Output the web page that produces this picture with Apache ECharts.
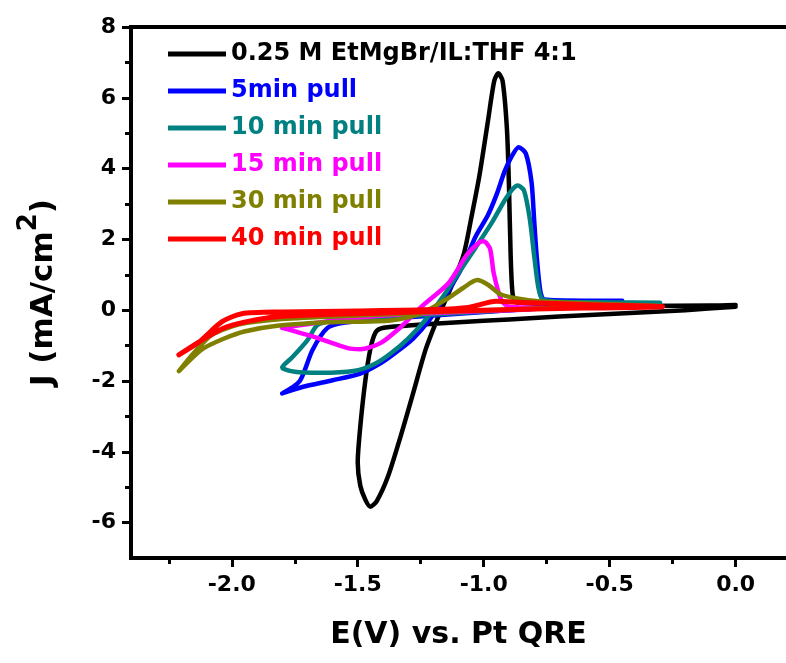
<!DOCTYPE html>
<html>
<head>
<meta charset="utf-8">
<script src="https://cdn.jsdelivr.net/npm/echarts@6/dist/echarts.min.js"></script>
<style>html,body{margin:0;padding:0;background:#fff}#c{width:786px;height:663px}</style>
</head>
<body>
<div id="c"></div>
<script>
// ---- data (E in V, J in mA/cm2) ----
const seriesNames = ['0.25 M EtMgBr/IL:THF 4:1', '5min pull', '10 min pull', '15 min pull', '30 min pull', '40 min pull'];
const seriesColors = ['#000000', '#0000FF', '#008080', '#FF00FF', '#808000', '#FF0000'];

const curveBlack = [
  [0.0, 0.1], [-0.2, 0.0], [-0.4, -0.07], [-0.6, -0.14], [-0.8, -0.22], [-1.0, -0.3], [-1.2, -0.38],
  [-1.35, -0.46], [-1.41, -0.52], [-1.43, -0.64], [-1.45, -1.1], [-1.47, -2.0], [-1.49, -3.3], [-1.5, -4.3],
  [-1.49, -4.95], [-1.47, -5.35], [-1.45, -5.55], [-1.425, -5.4], [-1.38, -4.7], [-1.33, -3.57], [-1.28, -2.34],
  [-1.23, -1.1], [-1.18, -0.18], [-1.13, 0.64], [-1.08, 1.56], [-1.05, 2.58], [-1.017, 3.8], [-0.983, 5.35],
  [-0.958, 6.48], [-0.942, 6.69], [-0.925, 6.48], [-0.908, 5.15], [-0.9, 3.6], [-0.893, 1.56], [-0.885, 0.45],
  [-0.87, 0.22], [-0.7, 0.17], [-0.4, 0.12], [-0.1, 0.13], [0.0, 0.15]
];
const curve5min = [
  [-0.45, 0.27], [-0.6, 0.18], [-0.8, 0.05], [-1.0, -0.05], [-1.2, -0.15], [-1.4, -0.25], [-1.55, -0.35],
  [-1.62, -0.5], [-1.68, -1.13], [-1.73, -2.0], [-1.8, -2.35], [-1.72, -2.17], [-1.6, -1.98], [-1.49, -1.79],
  [-1.41, -1.5], [-1.35, -1.2], [-1.28, -0.8], [-1.217, -0.29], [-1.15, 0.43], [-1.083, 1.25], [-1.033, 2.07],
  [-0.983, 2.69], [-0.947, 3.3], [-0.917, 3.92], [-0.89, 4.33], [-0.861, 4.6], [-0.833, 4.43], [-0.81, 3.61],
  [-0.8, 2.58], [-0.79, 1.56], [-0.775, 0.53], [-0.76, 0.3], [-0.6, 0.27], [-0.45, 0.27]
];
const curve10min = [
  [-0.3, 0.21], [-0.6, 0.12], [-0.9, 0.0], [-1.2, -0.12], [-1.45, -0.22], [-1.6, -0.3], [-1.66, -0.42],
  [-1.7, -0.85], [-1.76, -1.33], [-1.8, -1.62], [-1.75, -1.74], [-1.65, -1.77], [-1.517, -1.72], [-1.433, -1.52],
  [-1.367, -1.21], [-1.3, -0.8], [-1.233, -0.29], [-1.167, 0.33], [-1.1, 1.05], [-1.033, 1.76], [-0.967, 2.48],
  [-0.917, 3.1], [-0.885, 3.42], [-0.865, 3.52], [-0.84, 3.38], [-0.817, 2.58], [-0.8, 1.56], [-0.783, 0.64],
  [-0.767, 0.31], [-0.7, 0.24], [-0.5, 0.22], [-0.3, 0.21]
];
const curve15min = [
  [-1.8, -0.5], [-1.67, -0.76], [-1.54, -1.07], [-1.49, -1.1], [-1.41, -0.93], [-1.33, -0.48], [-1.25, 0.08],
  [-1.14, 0.76], [-1.067, 1.56], [-1.017, 1.92], [-1.0, 1.95], [-0.975, 1.74], [-0.96, 1.04], [-0.93, 0.28],
  [-0.9, 0.1], [-0.8, 0.07], [-0.75, 0.06], [-0.9, 0.0], [-1.1, -0.05], [-1.4, -0.15], [-1.6, -0.3], [-1.8, -0.5]
];
const curve30min = [
  [-2.21, -1.72], [-2.117, -1.1], [-2.03, -0.8], [-1.95, -0.6], [-1.82, -0.44], [-1.62, -0.34], [-1.37, -0.29],
  [-1.25, -0.1], [-1.15, 0.3], [-1.083, 0.62], [-1.026, 0.85], [-0.983, 0.72], [-0.933, 0.45], [-0.867, 0.33],
  [-0.783, 0.25], [-0.55, 0.18], [-0.3, 0.12], [-0.6, 0.08], [-0.9, 0.02], [-1.2, -0.06], [-1.5, -0.15],
  [-1.8, -0.25], [-1.97, -0.4], [-2.08, -0.7], [-2.15, -1.2], [-2.21, -1.72]
];
const curve40min = [
  [-2.21, -1.26], [-2.13, -0.9], [-2.04, -0.33], [-1.96, -0.1], [-1.8, -0.05], [-1.5, -0.02], [-1.2, 0.02],
  [-1.06, 0.08], [-0.95, 0.25], [-0.85, 0.22], [-0.6, 0.16], [-0.29, 0.1], [-0.6, 0.06], [-1.0, 0.0],
  [-1.4, -0.08], [-1.83, -0.19], [-2.02, -0.47], [-2.12, -0.85], [-2.21, -1.26]
];
const curves = [curveBlack, curve5min, curve10min, curve15min, curve30min, curve40min];

const xMajorTicks = [-2.0, -1.5, -1.0, -0.5, 0.0];
const xMinorTicks = [-2.25, -1.75, -1.25, -0.75, -0.25];
const yMajorTicks = [-6, -4, -2, 0, 2, 4, 6, 8];
const yMinorTicks = [-5, -3, -1, 1, 3, 5, 7];
const xRange = [-2.4, 0.2];
const yRange = [-7, 8];

// ---- chart ----
const FONT = 'DejaVu Sans';
const chart = echarts.init(document.getElementById('c'), null, {renderer: 'canvas'});

const hidden = {show: false};
const option = {
  backgroundColor: '#fff',
  animation: false,
  grid: {left: 131, top: 27, width: 660, height: 531},
  legend: {
    orient: 'vertical', left: 168, top: 42, padding: 0,
    icon: 'rect', itemWidth: 58, itemHeight: 5, itemGap: 13,
    selectedMode: false,
    textStyle: {fontFamily: FONT, fontWeight: 'bold', fontSize: 24},
    data: seriesNames.map((n, i) => ({name: n, textStyle: {color: seriesColors[i]}}))
  },
  xAxis: [
    {
      type: 'value', min: xRange[0], max: xRange[1], position: 'bottom',
      axisLine: {show: true, onZero: false, lineStyle: {color: '#000', width: 4, cap: 'square'}},
      axisTick: {show: true, inside: false, length: 9, lineStyle: {color: '#000', width: 3}, customValues: xMajorTicks},
      axisLabel: {show: true, margin: 16, color: '#000', fontFamily: FONT, fontWeight: 'bold', fontSize: 22,
        customValues: xMajorTicks, formatter: v => Number(v).toFixed(1)},
      splitLine: hidden,
      name: 'E(V) vs. Pt QRE', nameLocation: 'middle', nameGap: 62,
      nameTextStyle: {color: '#000', fontFamily: FONT, fontWeight: 'bold', fontSize: 30}
    },
    {
      type: 'value', min: xRange[0], max: xRange[1], position: 'bottom',
      axisLine: {show: false, onZero: false},
      axisTick: {show: true, inside: false, length: 6, lineStyle: {color: '#000', width: 3}, customValues: xMinorTicks},
      axisLabel: hidden, splitLine: hidden
    },
    {
      type: 'value', min: xRange[0], max: xRange[1], position: 'top',
      axisLine: {show: true, onZero: false, lineStyle: {color: '#000', width: 4, cap: 'square'}},
      axisTick: hidden, axisLabel: hidden, splitLine: hidden
    }
  ],
  yAxis: [
    {
      type: 'value', min: yRange[0], max: yRange[1], position: 'left',
      axisLine: {show: true, onZero: false, lineStyle: {color: '#000', width: 4, cap: 'square'}},
      axisTick: {show: true, inside: false, length: 9, lineStyle: {color: '#000', width: 3}, customValues: yMajorTicks},
      axisLabel: {show: true, margin: 15, color: '#000', fontFamily: FONT, fontWeight: 'bold', fontSize: 22,
        customValues: yMajorTicks},
      splitLine: hidden,
      name: '{a|J (mA/cm}{b|2}{a|)}', nameLocation: 'middle', nameGap: 72, nameRotate: 90,
      nameTextStyle: {
        color: '#000', fontFamily: FONT, fontWeight: 'bold', fontSize: 31,
        rich: {
          a: {color: '#000', fontFamily: FONT, fontWeight: 'bold', fontSize: 31, verticalAlign: 'bottom'},
          b: {color: '#000', fontFamily: FONT, fontWeight: 'bold', fontSize: 26, verticalAlign: 'bottom', padding: [0, 0, 17, 0]}
        }
      }
    },
    {
      type: 'value', min: yRange[0], max: yRange[1], position: 'left',
      axisLine: {show: false, onZero: false},
      axisTick: {show: true, inside: false, length: 6, lineStyle: {color: '#000', width: 3}, customValues: yMinorTicks},
      axisLabel: hidden, splitLine: hidden
    }
  ],
  series: curves.map((d, i) => ({
    name: seriesNames[i],
    type: 'line',
    xAxisIndex: 0, yAxisIndex: 0,
    data: d,
    showSymbol: false, symbol: 'none',
    smooth: 0.25,
    clip: false,
    color: seriesColors[i],
    lineStyle: {color: seriesColors[i], width: i === 5 ? 5 : 4.5, join: 'round', cap: 'round'},
    z: 2 + i
  }))
};
chart.setOption(option);
</script>
</body>
</html>
